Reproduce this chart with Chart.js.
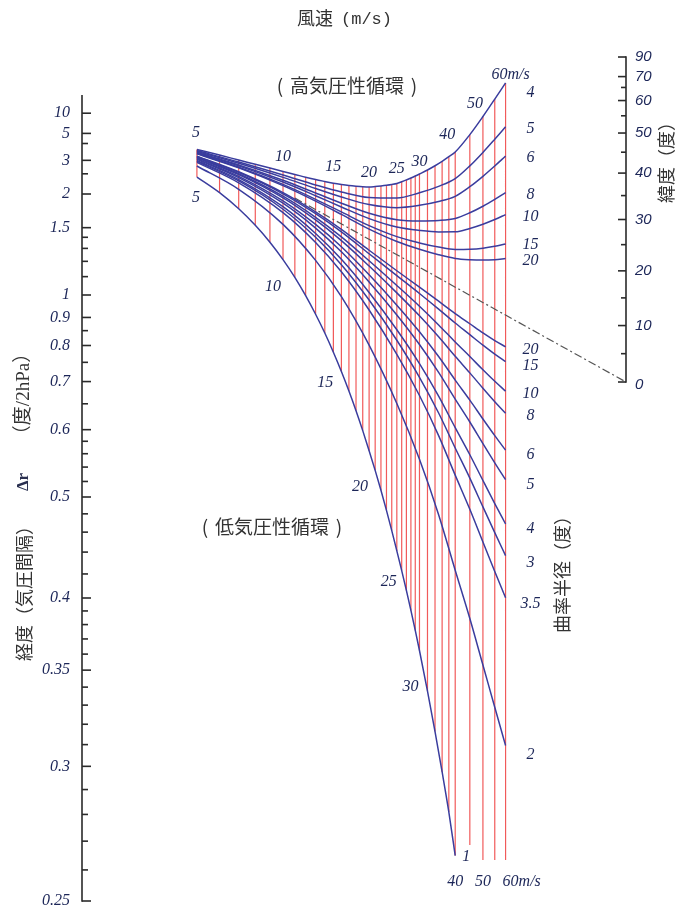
<!DOCTYPE html>
<html><head><meta charset="utf-8">
<script src="https://cdn.jsdelivr.net/npm/chart.js@4/dist/chart.umd.min.js"></script>
<style>html,body{margin:0;padding:0;background:#fff}#wrap{width:684px;height:913px;position:relative}</style>
</head><body><div id="wrap"><canvas id="c"></canvas></div>
<script>
// ---------------- DATA (y unit = 1/Δr, x = wind speed m/s, log) ----------------
const redSpeeds = [5,6,7,8,9,10,11,12,13,14,15,16,17,18,19,20,21,22,23,24,25,26,27,28,29,30,32,34,36,38,40,45,50,55,60];
// upper envelope = anticyclonic curve, radius 4
const topEnvelope = [0.2797,0.3073,0.3319,0.3530,0.3717,0.3885,0.4031,0.4169,0.4285,0.4380,0.4465,0.4529,0.4579,0.4614,0.4640,0.4651,0.4630,0.4601,0.4568,0.4529,0.4481,0.4392,0.4301,0.4209,0.4110,0.4009,0.3811,0.3601,0.3385,0.3155,0.2922,0.2060,0.1163,0.0300,-0.0500];
// lower envelope = cyclonic curve, radius 1 (5..40 m/s)
const bottomEnvelope = [0.4161,0.4935,0.5733,0.6548,0.7385,0.8247,0.9125,1.0033,1.0954,1.1884,1.2833,1.3788,1.4754,1.5728,1.6714,1.7706,1.8681,1.9665,2.0661,2.1662,2.2668,2.3644,2.4626,2.5615,2.6605,2.7600,2.9606,3.1611,3.3613,3.5598,3.7750];
// lower ends of speed lines 45, 50, 55, 60 m/s
const redExtraBottom = [3.7228,3.797,3.797,3.797];

const sampleSpeeds = [5,7,10,13,16,20,25,30,35,40,45,50,55,60];
// anticyclonic (高気圧性) curves
const high5  = [0.2851,0.3416,0.4059,0.4551,0.4900,0.5174,0.5199,0.4941,0.4621,0.4239,0.3608,0.2941,0.2287,0.1674];
const high6  = [0.2888,0.3480,0.4176,0.4729,0.5147,0.5522,0.5677,0.5561,0.5373,0.5116,0.4640,0.4125,0.3612,0.3124];
const high8  = [0.2933,0.3561,0.4321,0.4952,0.5455,0.5957,0.6275,0.6337,0.6313,0.6213,0.5931,0.5606,0.5268,0.4936];
const high10 = [0.2960,0.3609,0.4408,0.5085,0.5641,0.6218,0.6634,0.6802,0.6877,0.6872,0.6705,0.6495,0.6262,0.6023];
const high15 = [0.2997,0.3673,0.4525,0.5263,0.5888,0.6566,0.7112,0.7422,0.7629,0.7750,0.7737,0.7680,0.7588,0.7472];
const high20 = [0.3015,0.3705,0.4583,0.5352,0.6011,0.6740,0.7351,0.7733,0.8005,0.8188,0.8253,0.8272,0.8250,0.8197];
// cyclonic (低気圧性) curves, named by the label printed at their right end
const low20 = [0.3124,0.3899,0.4932,0.5886,0.6751,0.7785,0.8800,0.9610,1.0308,1.0917,1.1423,1.1876,1.2255,1.2564];
const low15 = [0.3142,0.3931,0.4990,0.5975,0.6875,0.7958,0.9043,0.9926,1.0699,1.1388,1.1964,1.2485,1.2927,1.3296];
const low10 = [0.3178,0.3995,0.5106,0.6152,0.7122,0.8306,0.9529,1.0557,1.1482,1.2329,1.3045,1.3703,1.4272,1.4757];
const low8  = [0.3206,0.4044,0.5194,0.6286,0.7307,0.8567,0.9894,1.1030,1.2069,1.3035,1.3855,1.4616,1.5281,1.5854];
const low6  = [0.3251,0.4124,0.5339,0.6508,0.7615,0.9002,1.0502,1.1819,1.3047,1.4212,1.5206,1.6139,1.6962,1.7682];
const low5  = [0.3288,0.4188,0.5455,0.6686,0.7862,0.9351,1.0989,1.2450,1.3830,1.5153,1.6287,1.7356,1.8307,1.9144];
const low4  = [0.3342,0.4285,0.5630,0.6953,0.8233,0.9873,1.1719,1.3398,1.5004,1.6566,1.7908,1.9183,2.0324,2.1337];
const low3  = [0.3381,0.4353,0.5754,0.7144,0.8497,1.0246,1.2241,1.4074,1.5842,1.7574,1.9066,2.0488,2.1765,2.2903];
const low35 = [0.3433,0.4446,0.5921,0.7398,0.8850,1.0743,1.2936,1.4975,1.6960,1.8919,2.0610,2.2228,2.3687,2.4992];
const low2  = [0.3615,0.4767,0.6502,0.8287,1.0084,1.2483,1.5369,1.8131,2.0874,2.3626,2.6015,2.8317,3.0411,3.2302];

// dash-dot guide line: [speed, sin(latitude)]
const guideLine = [[11.0,0.566],[158.2,0]];

// axis ticks
const leftTickLabels = [10,5,3,2,1.5,1,0.9,0.8,0.7,0.6,0.5,0.4,0.35,0.3,0.25];
const leftMinorTicks = [4,2.5,1.4,1.3,1.2,1.1,0.85,0.75,0.65,0.58,0.56,0.54,0.52,0.48,0.46,0.44,0.42,0.39,0.38,0.37,0.36,0.34,0.33,0.32,0.31,0.29,0.28,0.27,0.26];
const latTickLabels = [0,10,20,30,40,50,60,70,90];
const latMinorTicks = [5,15,25,35,45,55,65];

// labels
const topSpeedLabels = ['5','10','15','20','25','30','40','50','60m/s'];
const topSpeedAt = [5,10,15,20,25,30,40,50,60];
const bottomSpeedLabels = ['5','10','15','20','25','30'];
const bottomSpeedAt = [5,10,15,20,25,30];
const axisSpeedLabels = ['40','50','60m/s'];
const axisSpeedAt = [40,50,60];

// ---------------- LAYOUT / STYLE ----------------
const X_MIN = 1.9825, X_MAX = 158.2;
const Y_MIN = -0.3, Y_MAX = 4.05;
const LAT_MIN = -1.628, LAT_MAX = 1.0757;
const AXIS_TOP = 0.01;
const BLUE = '#3a3d9e', RED = 'rgba(240,72,72,0.9)', INK = '#1c2658', GREY = '#333';
const NUMFONT = 'italic 16px "Liberation Serif", "DejaVu Serif", serif';
const RFONT = 'italic 15px "Liberation Sans Narrow", "Liberation Sans", sans-serif';
const JP = '"Noto Sans CJK JP", sans-serif';

const topOff = [[-1,-17],[0,-15],[0,-16],[0,-14],[0,-15],[0,-12],[-8,-17],[-8,-13],[5,-8]];
const botOff = [[-1,21],[-10,27],[-8,31],[-9,36],[-8,31],[-9,36]];

const pts = (xs, ys) => xs.map((x, i) => ({x, y: ys[i]}));

const redData = [];
redSpeeds.forEach((s, i) => {
  const bot = i < bottomEnvelope.length ? bottomEnvelope[i] : redExtraBottom[i - bottomEnvelope.length];
  redData.push({x: s, y: topEnvelope[i]}, {x: s, y: bot}, {x: s, y: null});
});

const highCurves = [['5',high5,2],['6',high6,2],['8',high8,2],['10',high10,2],['15',high15,1],['20',high20,2]];
const lowCurves = [['20',low20,3],['15',low15,4],['10',low10,3],['8',low8,3],['6',low6,5],['5',low5,5],['4',low4,5],['3',low3,7],['3.5',low35,6],['2',low2,9]];

const curveStyle = {showLine: true, borderColor: BLUE, borderWidth: 1.5, pointRadius: 0, cubicInterpolationMode: 'monotone', fill: false, order: 1};
const datasets = [
  {data: redData, showLine: true, borderColor: RED, borderWidth: 1.2, pointRadius: 0, tension: 0, spanGaps: false, order: 10},
  Object.assign({data: pts(redSpeeds, topEnvelope)}, curveStyle),
  Object.assign({data: pts(redSpeeds.slice(0, bottomEnvelope.length), bottomEnvelope)}, curveStyle),
  ...highCurves.map(c => Object.assign({data: pts(sampleSpeeds, c[1])}, curveStyle)),
  ...lowCurves.map(c => Object.assign({data: pts(sampleSpeeds, c[1])}, curveStyle)),
  {data: guideLine.map(p => ({x: p[0], y: p[1]})), yAxisID: 'yLat', showLine: true, borderColor: '#555', borderWidth: 1.2, borderDash: [8,3,2,3], pointRadius: 0, tension: 0, order: 2}
];

function text(ctx, s, x, y, font, color, align) {
  ctx.font = font; ctx.fillStyle = color; ctx.textAlign = align || 'center'; ctx.textBaseline = 'middle';
  ctx.fillText(s, x, y);
}
function vtext(ctx, s, x, y, font, color) {
  ctx.save(); ctx.translate(x, y); ctx.rotate(-Math.PI / 2);
  text(ctx, s, 0, 0, font, color, 'center'); ctx.restore();
}
// text wrapped in widely spaced parentheses
function ptext(ctx, s, x, y, size, gap, rotate) {
  ctx.save(); ctx.translate(x, y); if (rotate) ctx.rotate(-Math.PI / 2);
  ctx.font = size + 'px ' + JP;
  const w = ctx.measureText(s).width;
  text(ctx, s, 0, 0, size + 'px ' + JP, GREY, 'center');
  text(ctx, '(', -w / 2 - gap, 0, size + 'px ' + JP, GREY, 'center');
  text(ctx, ')', w / 2 + gap, 0, size + 'px ' + JP, GREY, 'center');
  ctx.restore();
}
function seg(ctx, x1, y1, x2, y2) { ctx.beginPath(); ctx.moveTo(x1, y1); ctx.lineTo(x2, y2); ctx.stroke(); }

const decor = {
  id: 'decor',
  afterDatasetsDraw(chart) {
    const ctx = chart.ctx, xs = chart.scales.x, ys = chart.scales.y, yl = chart.scales.yLat;
    const xL = Math.round(xs.getPixelForValue(X_MIN)), xR = Math.round(xs.getPixelForValue(X_MAX));
    ctx.save();
    ctx.strokeStyle = '#2a2a2a'; ctx.lineWidth = 1.6; ctx.lineCap = 'butt';
    // left axis (Δr, plotted as 1/Δr)
    seg(ctx, xL, ys.getPixelForValue(AXIS_TOP), xL, ys.getPixelForValue(4) + 0.8);
    leftTickLabels.forEach(d => {
      const y = ys.getPixelForValue(1 / d);
      seg(ctx, xL, y, xL + 9, y);
      text(ctx, String(d), xL - 12, y, NUMFONT, INK, 'right');
    });
    leftMinorTicks.forEach(d => { const y = ys.getPixelForValue(1 / d); seg(ctx, xL, y, xL + 6, y); });
    // right axis (latitude, sin scale)
    const latY = a => yl.getPixelForValue(Math.sin(a * Math.PI / 180));
    seg(ctx, xR, latY(90) - 0.8, xR, latY(0) + 0.8);
    latTickLabels.forEach(a => {
      const y = latY(a);
      seg(ctx, xR - 8, y, xR, y);
      text(ctx, String(a), xR + 9, y + (a === 0 ? 3 : 0), RFONT, INK, 'left');
    });
    latMinorTicks.forEach(a => { const y = latY(a); seg(ctx, xR - 5, y, xR, y); });

    // speed labels on envelopes
    topSpeedAt.forEach((s, i) => {
      const k = redSpeeds.indexOf(s);
      text(ctx, topSpeedLabels[i], xs.getPixelForValue(s) + topOff[i][0], ys.getPixelForValue(topEnvelope[k]) + topOff[i][1], NUMFONT, INK);
    });
    bottomSpeedAt.forEach((s, i) => {
      const k = redSpeeds.indexOf(s);
      text(ctx, bottomSpeedLabels[i], xs.getPixelForValue(s) + botOff[i][0], ys.getPixelForValue(bottomEnvelope[k]) + botOff[i][1], NUMFONT, INK);
    });
    const yAxisLab = ys.getPixelForValue(redExtraBottom[3]) + 22;
    axisSpeedAt.forEach((s, i) => {
      const x = xs.getPixelForValue(s);
      if (i === 2) text(ctx, axisSpeedLabels[i], x - 3, yAxisLab, NUMFONT, INK, 'left');
      else text(ctx, axisSpeedLabels[i], x, yAxisLab, NUMFONT, INK);
    });
    // radius labels at right ends
    const xEnd = xs.getPixelForValue(60) + 25;
    text(ctx, '4', xEnd, ys.getPixelForValue(topEnvelope[topEnvelope.length - 1]) + 10, NUMFONT, INK);
    highCurves.forEach(c => text(ctx, c[0], xEnd, ys.getPixelForValue(c[1][c[1].length - 1]) + c[2], NUMFONT, INK));
    lowCurves.forEach(c => text(ctx, c[0], xEnd, ys.getPixelForValue(c[1][c[1].length - 1]) + c[2], NUMFONT, INK));
    text(ctx, '1', xs.getPixelForValue(40) + 11, ys.getPixelForValue(bottomEnvelope[bottomEnvelope.length - 1]) + 1, NUMFONT, INK);

    // titles
    text(ctx, '風速', 315, 18, '18px ' + JP, GREY);
    text(ctx, '(m/s)', 341, 19, '17px "Liberation Mono", monospace', GREY, 'left');
    ptext(ctx, '高気圧性循環', 347, 86, 19, 10, false);
    ptext(ctx, '低気圧性循環', 272, 527, 19, 10, false);
    vtext(ctx, '経度（気圧間隔）', 24, 589, '18px ' + JP, GREY);
    vtext(ctx, 'Δr', 24, 482, 'bold 17px "Liberation Serif", serif', '#2a3050');
    vtext(ctx, '（度/2hPa）', 24, 394, '19px "Liberation Serif", ' + JP, GREY);
    vtext(ctx, '緯度（度）', 666, 158, '18px ' + JP, GREY);
    vtext(ctx, '曲率半径（度）', 562, 570, '18px ' + JP, GREY);
    ctx.restore();
  }
};

new Chart(document.getElementById('c'), {
  type: 'scatter',
  data: {datasets},
  options: {
    responsive: true, maintainAspectRatio: false, animation: false, events: [],
    layout: {padding: {left: 82, right: 58, top: 32.4, bottom: 1.9}},
    plugins: {legend: {display: false}, tooltip: {enabled: false}},
    scales: {
      x: {type: 'logarithmic', display: false, min: X_MIN, max: X_MAX, bounds: 'data'},
      y: {type: 'linear', display: false, reverse: true, min: Y_MIN, max: Y_MAX, bounds: 'data'},
      yLat: {type: 'linear', display: false, min: LAT_MIN, max: LAT_MAX, bounds: 'data'}
    }
  },
  plugins: [decor]
});
</script></body></html>
